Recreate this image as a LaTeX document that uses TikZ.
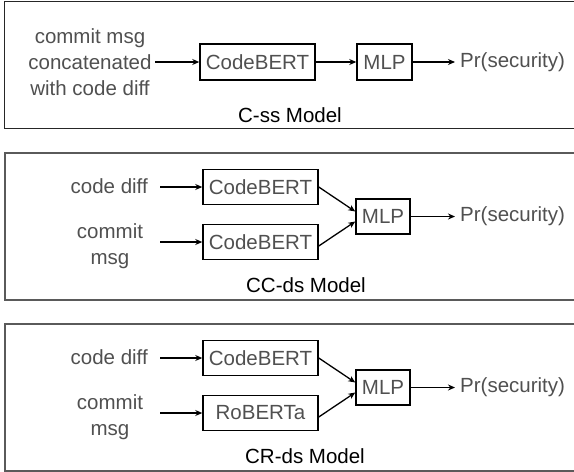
\documentclass[tikz,border=0pt]{standalone}
\usepackage{fontspec}
\setmainfont{Liberation Sans}
\usetikzlibrary{arrows.meta}
\definecolor{txtgray}{HTML}{505050}
\definecolor{framegray}{HTML}{5A5A5A}
\begin{document}
\begin{tikzpicture}[x=1pt,y=-1pt,
  every node/.style={font=\fontsize{20.5}{26}\selectfont, text=txtgray, inner sep=0pt},
  blk/.style={draw=black, line width=1.5pt, minimum height=35pt, align=center},
  arr/.style={line width=1.3pt, -{Stealth[length=7pt,width=6pt]}, draw=black},
  frm/.style={line width=1.6pt, draw=framegray},
  ttl/.style={text=black}]
\useasboundingbox (0,0) rectangle (574,472);
\clip (0,0) rectangle (574,472);

% ---------- Frame 1: C-ss ----------
\draw[frm, draw=black!85] (4.5,1.5) rectangle (600,128.5);
\node[align=center] (l1) at (90,62) {commit msg\\concatenated\\with code diff};
\coordinate (s1) at (155,62);
\node[blk, minimum width=115pt, minimum height=36pt] (cb1) at (257.5,62) {CodeBERT};
\node[blk, minimum width=55pt, minimum height=36pt] (mlp1) at (384.5,62) {MLP};
\node[anchor=west] (pr1) at (460,62) {Pr(security)};
\node[ttl] (t1) at (290,115) {C-ss Model};
\draw[arr] (s1) -- (cb1.west);
\draw[arr] (cb1.east) -- (mlp1.west);
\draw[arr, shorten >=5pt] (mlp1.east) -- (pr1.west);

% ---------- Frame 2: CC-ds ----------
\draw[frm] (5,153) rectangle (600,300);
\node[anchor=east] (cd2) at (148,186) {code diff};
\node[align=center] (cm2) at (110,246) {commit\\msg};
\coordinate (s2a) at (160,187);
\coordinate (s2b) at (160,242);
\node[blk, minimum width=115pt] (cb2a) at (260.5,187) {CodeBERT};
\node[blk, minimum width=115pt] (cb2b) at (260.5,242) {CodeBERT};
\node[blk, minimum width=54pt] (mlp2) at (383,216.5) {MLP};
\node[anchor=west] (pr2) at (460,216.5) {Pr(security)};
\node[ttl] (t2) at (306,285) {CC-ds Model};
\draw[arr] (s2a) -- (cb2a.west);
\draw[arr] (s2b) -- (cb2b.west);
\draw[arr] (cb2a.east) -- ([yshift=5pt]mlp2.west);
\draw[arr] ([yshift=-4pt]cb2b.east) -- ([yshift=-5pt]mlp2.west);
\draw[arr, shorten >=5pt] (mlp2.east) -- (pr2.west);

% ---------- Frame 3: CR-ds ----------
\draw[frm] (5,324) rectangle (600,471);
\node[anchor=east] (cd3) at (148,357) {code diff};
\node[align=center] (cm3) at (110,417) {commit\\msg};
\coordinate (s3a) at (160,358);
\coordinate (s3b) at (160,413);
\node[blk, minimum width=115pt] (cb3) at (260.5,358) {CodeBERT};
\node[blk, minimum width=115pt] (rb3) at (260.5,413) {RoBERTa};
\node[blk, minimum width=54pt] (mlp3) at (383,387.5) {MLP};
\node[anchor=west] (pr3) at (460,387.5) {Pr(security)};
\node[ttl] (t3) at (305,456) {CR-ds Model};
\draw[arr] (s3a) -- (cb3.west);
\draw[arr] (s3b) -- (rb3.west);
\draw[arr] (cb3.east) -- ([yshift=5pt]mlp3.west);
\draw[arr] ([yshift=-4pt]rb3.east) -- ([yshift=-5pt]mlp3.west);
\draw[arr, shorten >=5pt] (mlp3.east) -- (pr3.west);
\end{tikzpicture}
\end{document}
